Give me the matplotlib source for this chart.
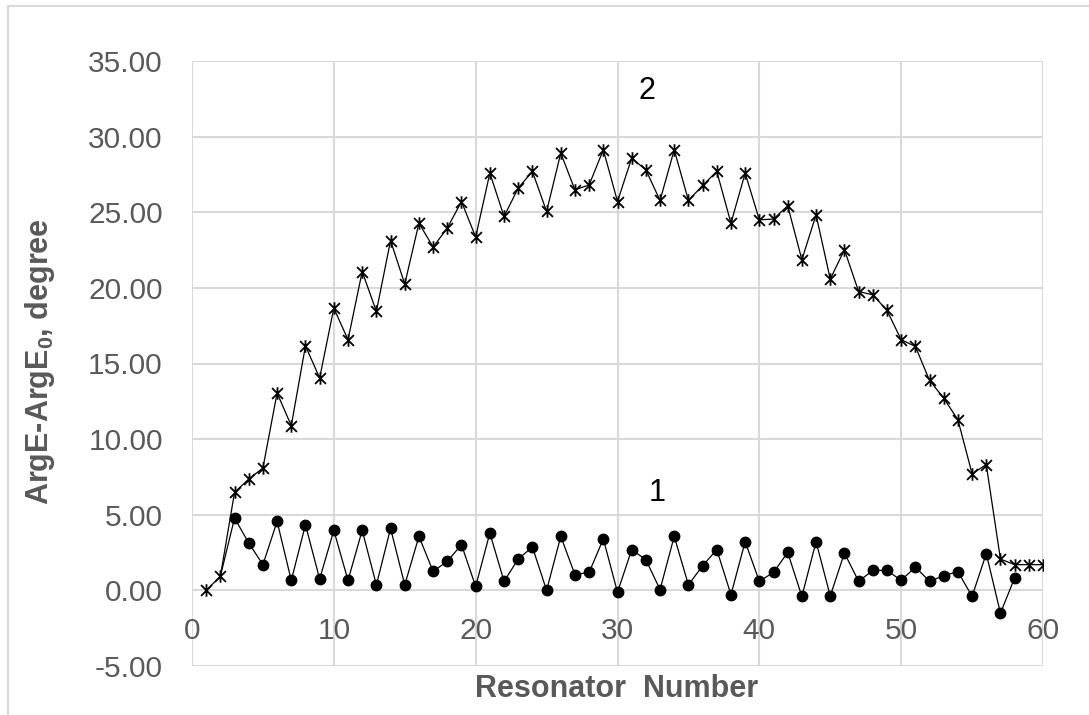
import matplotlib
matplotlib.use("Agg")
import matplotlib.pyplot as plt
from matplotlib.path import Path
from matplotlib.lines import Line2D

# resonator numbers and phase shifts
n2 = list(range(1, 61))
arg2 = [0.00, 0.93, 6.48, 7.36, 8.09, 13.05, 10.89, 16.17, 14.04, 18.66,
        16.57, 21.08, 18.44, 23.13, 20.25, 24.28, 22.70, 23.95, 25.71, 23.36,
        27.59, 24.72, 26.60, 27.70, 25.05, 28.91, 26.48, 26.81, 29.13, 25.71,
        28.58, 27.80, 25.78, 29.13, 25.78, 26.77, 27.70, 24.28, 27.59, 24.50,
        24.55, 25.43, 21.86, 24.83, 20.58, 22.52, 19.76, 19.54, 18.51, 16.57,
        16.13, 13.88, 12.71, 11.28, 7.71, 8.31, 2.07, 1.70, 1.70, 1.70]

n1 = list(range(2, 59))
arg1 = [0.93, 4.78, 3.13, 1.70, 4.56, 0.66, 4.34, 0.75, 3.97, 0.66,
        3.97, 0.36, 4.10, 0.36, 3.57, 1.26, 1.92, 3.02, 0.26, 3.79,
        0.60, 2.07, 2.87, 0.00, 3.57, 1.04, 1.19, 3.40, -0.13, 2.69,
        2.03, 0.05, 3.57, 0.36, 1.63, 2.69, -0.28, 3.22, 0.60, 1.19,
        2.51, -0.40, 3.22, -0.37, 2.47, 0.60, 1.32, 1.32, 0.66, 1.54,
        0.60, 0.97, 1.24, -0.40, 2.43, -1.50, 0.82]

xticks = [0, 10, 20, 30, 40, 50, 60]
yticks = [-5, 0, 5, 10, 15, 20, 25, 30, 35]

grey = '#595959'
gridc = '#d9d9d9'
plt.rcParams['font.family'] = ['Liberation Sans', 'DejaVu Sans']

# excel style star: an x with a vertical bar through it
star = Path([(-1, -1), (1, 1), (-1, 1), (1, -1), (0, -1.15), (0, 1.15)],
            [Path.MOVETO, Path.LINETO, Path.MOVETO, Path.LINETO, Path.MOVETO, Path.LINETO])

fig = plt.figure(figsize=(10.89, 7.15), dpi=100)
ax = fig.add_axes([192/1089, 1 - 666/715, (1043 - 192)/1089, (666 - 61)/715])

ax.plot(n1, arg1, '-', color='black', lw=0.9, marker='o', ms=7.5,
        markevery=slice(1, None), mfc='black', mec='black', zorder=3)
ax.plot(n2, arg2, '-', color='black', lw=0.9, marker=star, ms=9,
        mfc='none', mec='black', mew=1.3, zorder=4)

ax.text(32.1, 33.0, '2', fontsize=22, ha='center', va='center', color='black')
ax.text(32.8, 6.45, '1', fontsize=22, ha='center', va='center', color='black')

ax.set_xlim(0, 60)
ax.set_ylim(-5, 35)
ax.set_xticks(xticks)
ax.set_yticks(yticks)
ax.set_yticklabels(['%.2f' % v for v in yticks])
ax.grid(True, color=gridc, lw=1.5)
ax.set_axisbelow(True)
for s in ax.spines.values():
    s.set_visible(False)
ax.spines['bottom'].set_position(('data', 0))
ax.tick_params(axis='both', length=0, labelsize=21.5, labelcolor=grey)
ax.tick_params(axis='y', pad=21)
ax.tick_params(axis='x', pad=19)

fig.text(617/1089, 1 - 689/715, 'Resonator  Number', fontsize=22, fontweight='bold',
         color=grey, ha='center', va='center')
fig.text(40/1089, 1 - 362/715, r'ArgE-ArgE$_{\mathregular{0}}$, degree', fontsize=22,
         fontweight='bold', color=grey, ha='center', va='center', rotation=90)

# outer chart border
fig.add_artist(Line2D([8/1089, 8/1089], [0, 1 - 6/715], color=gridc, lw=1.5))
fig.add_artist(Line2D([8/1089, 1], [1 - 6/715, 1 - 6/715], color=gridc, lw=1.5))

fig.savefig('out.png', dpi=100)
